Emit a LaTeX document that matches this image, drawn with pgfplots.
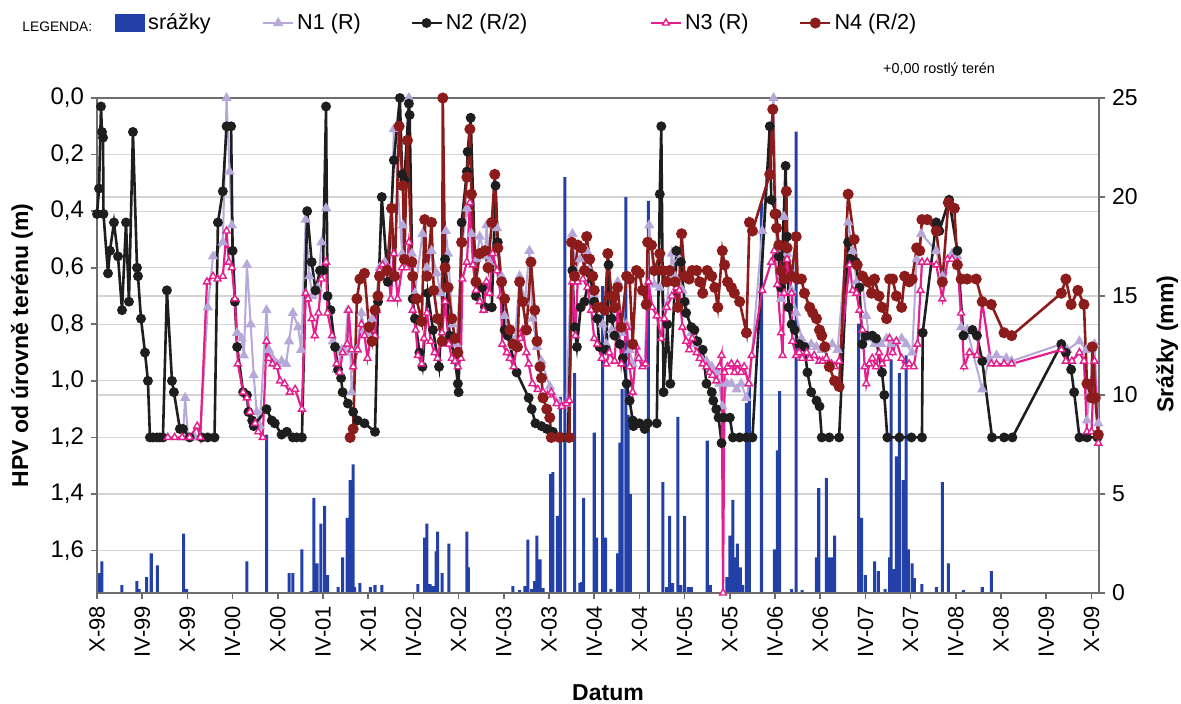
\documentclass[border=0pt]{standalone}
\usepackage{fontspec}
\setmainfont{Liberation Sans}
\usepackage{pgfplots}
\pgfplotsset{compat=1.18}

\definecolor{barblue}{RGB}{35,64,168}
\definecolor{nI}{RGB}{182,168,216}
\definecolor{nII}{RGB}{30,30,30}
\definecolor{nIII}{RGB}{228,30,140}
\definecolor{nIV}{RGB}{140,28,28}
\definecolor{gridgray}{RGB}{212,212,212}
\definecolor{axgray}{RGB}{110,110,110}

\pgfplotsset{
  common/.style={
    at={(48.5pt,55pt)}, anchor=south west,
    scale only axis, width=501pt, height=247.5pt,
    xmin=0, xmax=133,
    tick align=outside, major tick length=3pt,
    axis line style={axgray, line width=0.8pt},
    tick style={axgray, line width=0.8pt},
    every tick label/.append style={font=\fontsize{11}{13}\selectfont},
    /pgf/number format/assume math mode=true,
  },
}

\begin{document}
\begin{tikzpicture}
\useasboundingbox (0,0) rectangle (590.5pt,351.5pt);

% ----- precipitation (right axis), drawn first so the levels lie on top
\begin{axis}[
  common,
  ymin=0, ymax=25,
  axis x line=none, axis y line*=right,
  ytick={0,5,...,25},
  extra y ticks={2.142857,7.857143,10.714286,13.571429,16.428571,19.285714,22.142857},
  extra y tick labels={},
  extra y tick style={grid=major, major tick length=0pt},
  ymajorgrids=true,
  grid style={gridgray, line width=0.6pt},
  yticklabel style={font=\fontsize{11.5}{13}\selectfont},
  ylabel={Srážky (mm)},
  ylabel style={font=\bfseries\fontsize{11.5}{13}\selectfont, at={(axis description cs:1.068,0.503)}, anchor=center},
  ybar, bar width=0.4,
]
\addplot[fill=barblue, draw=none] table {
0.27 1.0
0.66 1.6
3.3 0.4
5.3 0.6
5.6 0.2
6.6 0.8
7.2 2.0
8.0 1.4
11.5 3.0
11.9 0.2
19.9 1.6
22.5 8.0
25.5 1.0
26.0 1.0
27.2 2.2
28.4 0.1
28.8 4.8
29.2 1.5
29.7 3.5
30.2 4.4
30.6 0.9
32.0 0.3
32.6 1.8
33.2 3.8
33.6 5.7
34.0 6.5
34.2 0.3
34.9 0.5
36.3 0.3
36.9 0.4
37.8 0.4
42.6 0.45
43.5 2.8
43.8 3.5
44.2 0.45
44.6 0.35
45.0 2.1
45.2 3.1
45.8 1.0
46.7 2.5
49.1 3.1
49.3 1.3
55.2 0.35
56.1 0.15
56.8 0.35
57.2 2.7
57.7 0.2
58.1 0.6
58.4 2.9
58.8 1.7
59.2 0.25
60.2 6.0
60.5 6.1
61.1 3.9
61.5 9.9
62.1 21.0
63.4 11.1
64.1 0.5
64.3 0.55
64.6 4.8
66.0 8.1
66.3 2.8
67.1 15.5
67.5 2.8
68.2 0.2
69.1 2.0
69.4 7.6
69.7 10.3
70.2 20.0
70.5 9.0
70.8 5.0
73.2 19.8
75.1 5.6
75.6 0.3
76.0 3.9
76.4 0.5
77.1 8.9
77.5 0.4
78.0 3.9
78.5 0.3
78.9 0.3
81.0 7.7
81.4 0.4
83.6 0.8
84.0 2.9
84.4 4.7
84.6 1.8
85.0 2.5
85.4 1.3
85.7 0.4
86.2 9.6
86.6 10.9
88.2 19.7
89.9 2.2
90.3 7.2
90.6 10.2
92.2 0.2
92.8 23.3
93.6 0.15
95.5 1.8
95.8 5.3
96.8 5.8
97.2 1.8
97.5 1.8
97.9 2.9
101.1 13.6
101.5 3.8
102.0 0.9
103.2 1.6
103.7 1.1
104.6 0.2
105.2 1.8
105.4 11.8
105.8 1.2
106.1 6.9
106.5 11.1
107.0 5.7
107.4 12.0
107.7 2.2
108.2 1.5
108.5 0.75
109.5 0.45
111.4 0.3
112.2 5.6
113.0 1.5
115.0 0.15
117.5 0.3
118.7 1.1
};
\end{axis}

% ----- groundwater levels (left axis, reversed)
\begin{axis}[
  common,
  ymin=0, ymax=1.75, y dir=reverse,
  xtick={0,6,...,132},
  xticklabels={X-98,IV-99,X-99,IV-00,X-00,IV-01,X-01,IV-02,X-02,IV-03,X-03,IV-04,X-04,IV-05,X-05,IV-06,X-06,IV-07,X-07,IV-08,X-08,IV-09,X-09},
  x tick label style={rotate=90, anchor=east},
  xtick pos=left, ytick pos=left,
  ytick={0,0.2,...,1.6},
  yticklabel style={font=\fontsize{12}{14}\selectfont, /pgf/number format/.cd, fixed, fixed zerofill, precision=1, use comma},
  clip=false,
  ylabel={HPV od úrovně terénu (m)},
  ylabel style={font=\bfseries\fontsize{11.5}{13}\selectfont, at={(axis description cs:-0.075,0.5)}, anchor=center},
  xlabel={Datum},
  xlabel style={font=\bfseries\fontsize{11.5}{13}\selectfont, at={(axis description cs:0.51,-0.202)}, anchor=center},
  legend columns=5,
  legend style={at={(axis description cs:0.018,1.1515)}, anchor=west, draw=none, fill=none,
    inner sep=0pt, font=\fontsize{10.8}{12}\selectfont,
    nodes={inner xsep=1.5pt}, /tikz/column sep=0pt},
  legend cell align=left,
  legend image code/.code={\draw[mark repeat=2, mark phase=2] plot coordinates {(0pt,0pt) (7.5pt,0pt) (15pt,0pt)};},
]
\addlegendimage{legend image code/.code={\fill[barblue] (0pt,-4.2pt) rectangle (14.5pt,4.2pt);}}

\addplot[nI, line width=1pt, mark=triangle*, mark size=2pt, mark options={fill=nI, draw=nI}] table {
11.4 1.20
11.7 1.06
12.1 1.20
13.0 1.20
13.7 1.20
14.7 0.74
15.4 0.56
16.7 0.51
17.2 0.00
17.6 0.26
17.9 0.45
18.6 0.83
19.2 0.85
19.5 0.91
19.9 0.59
20.4 0.80
20.8 0.98
21.2 1.11
21.6 1.16
22.5 0.75
22.8 0.89
23.3 0.92
23.9 0.94
24.5 0.93
25.1 0.94
25.5 0.86
26.0 0.76
26.7 0.81
27.1 0.89
27.7 0.43
28.2 0.63
28.6 0.70
29.3 0.67
29.8 0.51
30.4 0.39
30.6 0.70
31.0 0.75
31.3 0.86
31.8 0.96
32.5 0.89
32.9 0.90
33.3 0.75
33.6 0.89
33.8 1.04
34.5 0.89
35.1 0.76
35.5 0.82
35.9 0.83
36.5 0.78
36.9 0.74
37.5 0.60
38.2 0.58
38.9 0.62
39.4 0.11
40.5 0.55
40.6 0.45
41.4 0.00
41.8 0.55
42.2 0.69
43.2 0.48
43.8 0.60
44.4 0.54
45.1 0.62
45.6 0.69
46.3 0.47
46.6 0.55
47.2 0.80
47.7 0.87
48.5 0.51
49.1 0.39
49.7 0.48
50.4 0.57
50.8 0.49
51.5 0.56
51.7 0.45
52.1 0.58
53.1 0.46
53.7 0.63
54.1 0.77
54.8 0.84
55.4 0.88
56.1 0.63
56.8 0.72
57.4 0.54
57.8 0.78
58.4 0.88
59.0 0.93
60.1 1.02
61.4 1.08
62.3 1.08
63.1 0.48
63.5 0.61
64.1 0.57
65.0 0.54
65.4 0.61
66.0 0.70
66.4 0.78
67.1 0.80
67.6 0.87
68.3 0.82
69.1 0.65
69.6 0.83
70.3 0.80
70.7 0.89
71.1 0.94
71.8 0.92
72.7 0.94
73.3 0.45
74.0 0.66
74.7 0.67
75.6 0.74
76.3 0.55
76.7 0.63
77.3 0.57
77.7 0.68
78.1 0.72
78.9 0.83
79.6 0.87
80.2 0.92
80.9 0.93
81.6 0.95
82.2 0.97
82.6 1.01
83.0 1.09
83.6 1.01
84.2 1.01
84.9 1.03
85.5 1.01
86.2 1.06
86.6 1.01
88.3 0.47
89.8 0.00
90.2 0.54
90.8 0.71
91.2 0.42
91.6 0.55
92.2 0.68
92.8 0.76
93.5 0.85
94.2 0.88
94.8 0.87
95.5 0.88
96.2 0.89
96.8 0.88
97.6 0.87
98.3 0.89
99.7 0.44
100.3 0.54
100.8 0.65
101.5 0.63
102.1 0.77
102.5 0.85
103.2 0.87
104.1 0.87
104.8 0.85
105.4 0.87
106.1 0.86
106.8 0.85
107.4 0.87
108.2 0.90
108.8 0.57
109.4 0.48
111.4 0.54
112.2 0.63
113.5 0.55
114.2 0.56
114.7 0.81
115.5 0.82
117.5 1.03
118.4 0.92
119.4 0.91
120.7 0.92
121.4 0.93
128.0 0.87
128.8 0.89
130.4 0.86
131.3 0.89
131.4 1.14
132.4 0.87
132.9 1.15
};

\addplot[nII, line width=1.3pt, mark=*, mark size=1.8pt, mark options={fill=nII, draw=nII}] table {
0 0.41
0.27 0.32
0.53 0.03
0.66 0.12
0.80 0.14
0.86 0.41
1.46 0.62
1.72 0.54
2.25 0.44
2.79 0.56
3.32 0.75
3.85 0.44
4.24 0.72
4.77 0.12
5.31 0.60
5.44 0.63
5.84 0.78
6.37 0.90
6.76 1.00
7.03 1.20
7.43 1.20
7.96 1.20
8.36 1.20
8.75 1.20
9.28 0.68
9.95 1.00
10.21 1.04
11.0 1.17
11.4 1.17
12.3 1.20
13.9 1.20
14.7 1.20
15.6 1.20
16.05 0.44
16.7 0.33
17.2 0.10
17.8 0.10
18.0 0.54
18.3 0.72
18.6 0.88
19.4 1.04
19.9 1.05
20.1 1.11
20.6 1.14
20.8 1.16
22.5 1.10
23.2 1.14
23.6 1.15
24.5 1.19
25.2 1.18
26.0 1.20
26.5 1.20
27.2 1.20
27.9 0.40
28.5 0.58
29.0 0.68
29.6 0.61
30.0 0.61
30.4 0.03
30.6 0.70
31.0 0.75
31.6 0.88
32.0 0.96
32.4 0.99
32.6 1.04
33.3 1.08
34.0 1.11
34.6 1.14
35.5 1.15
36.9 1.18
37.3 0.72
37.8 0.35
38.6 0.65
39.4 0.22
40.2 0.00
40.5 0.27
40.8 0.29
41.4 0.02
41.5 0.06
41.9 0.71
42.2 0.78
42.8 0.90
43.2 0.95
43.9 0.69
44.6 0.82
45.4 0.95
46.2 0.57
46.8 0.84
47.5 0.92
47.9 1.01
48.0 1.04
48.4 0.44
49.1 0.26
49.2 0.19
49.6 0.07
50.3 0.70
51.1 0.67
51.5 0.74
52.4 0.74
52.9 0.31
53.2 0.51
54.1 0.82
54.5 0.84
55.7 0.97
57.3 1.06
57.7 1.10
58.2 1.15
59.0 1.16
59.7 1.17
60.5 1.18
61.7 1.20
62.5 1.20
63.1 0.61
63.4 0.81
63.7 0.88
64.2 0.74
64.7 0.72
65.4 0.62
66.0 0.72
66.4 0.78
66.7 0.88
67.6 0.89
67.9 0.59
68.3 0.78
68.7 0.84
69.4 0.87
69.8 0.92
70.3 1.01
70.7 1.07
71.1 1.14
71.2 1.16
72.0 1.15
72.7 1.17
73.1 1.15
74.3 1.15
74.7 0.34
74.9 0.10
75.2 1.04
75.7 0.80
76.1 1.01
76.9 0.54
77.5 0.58
78.0 0.72
78.2 0.76
78.9 0.81
79.3 0.82
79.7 0.86
80.4 0.89
80.9 1.01
81.6 1.04
81.8 1.07
82.2 1.10
82.5 1.13
82.9 1.22
83.2 1.13
84.0 1.13
84.4 1.20
85.3 1.20
86.2 1.20
87.0 1.20
89.3 0.10
89.5 0.36
90.2 0.41
90.5 0.56
90.8 0.67
91.4 0.24
91.6 0.49
91.8 0.74
92.2 0.80
92.6 0.82
93.2 0.87
93.9 0.88
94.3 0.97
94.8 1.04
95.5 1.07
95.9 1.09
96.2 1.20
97.2 1.20
98.5 1.20
99.7 0.51
100.1 0.57
100.7 0.58
101.2 0.67
101.6 0.87
102.1 0.84
102.9 0.84
103.4 0.85
104.2 0.97
104.5 1.05
104.9 1.20
106.5 1.20
108.1 1.20
109.5 1.20
109.6 0.83
111.4 0.44
111.8 0.47
113.1 0.36
114.2 0.54
115.0 0.84
116.2 0.82
116.8 0.84
117.5 0.93
118.8 1.20
120.4 1.20
121.5 1.20
128.0 0.87
128.6 0.90
129.3 0.96
129.7 1.04
130.4 1.20
131.4 1.20
132.8 1.20
};

\addplot[nIII, line width=1.1pt, mark=triangle*, mark size=2pt, mark options={fill=white, draw=nIII, line width=0.7pt}] table {
9.4 1.20
10.3 1.20
11.3 1.20
12.3 1.20
13.3 1.16
13.7 1.20
14.6 0.65
15.4 0.63
16.0 0.64
16.7 0.63
17.2 0.47
17.5 0.58
17.9 0.60
18.3 0.71
18.7 0.94
19.4 1.04
19.9 1.06
20.3 1.11
21.0 1.15
21.4 1.18
22.0 1.20
22.5 0.86
22.8 0.92
23.3 0.94
23.9 0.95
24.3 1.00
24.9 1.01
25.6 1.04
26.3 1.03
27.2 1.10
27.7 0.69
28.0 0.71
28.5 0.78
28.9 0.84
29.4 0.76
29.8 0.64
30.4 0.58
30.6 0.76
31.2 0.84
31.8 0.94
32.2 0.97
32.6 0.90
33.2 0.87
33.4 0.75
33.8 0.89
34.0 0.95
34.6 0.89
35.1 0.80
35.5 0.84
35.9 0.92
36.5 0.82
36.9 0.84
37.1 0.75
37.5 0.61
37.9 0.59
38.6 0.60
39.0 0.71
39.4 0.55
39.9 0.71
40.5 0.60
41.1 0.60
41.4 0.51
41.8 0.59
41.9 0.75
42.3 0.82
42.6 0.91
43.1 0.94
43.4 0.85
43.8 0.76
44.3 0.86
44.8 0.90
45.2 0.92
45.8 0.83
46.2 0.72
46.7 0.87
47.1 0.92
47.5 0.93
47.9 0.95
48.3 0.92
48.5 0.64
49.1 0.58
49.5 0.37
49.9 0.59
50.3 0.68
50.8 0.72
51.3 0.75
51.7 0.65
52.1 0.69
52.5 0.55
53.1 0.61
53.6 0.70
53.8 0.87
54.4 0.90
54.8 0.92
55.3 0.95
55.7 0.88
56.2 0.85
56.5 0.82
57.0 0.90
57.3 0.94
57.8 1.01
58.5 1.03
59.2 1.04
59.8 1.05
60.3 1.04
61.0 1.08
61.7 1.09
62.3 1.08
62.7 1.07
63.1 0.65
63.5 0.84
63.8 0.65
64.5 0.64
65.1 0.67
65.6 0.75
66.0 0.85
66.4 0.87
67.0 0.92
67.6 0.94
68.0 0.90
68.7 0.93
69.1 0.75
69.6 0.94
70.3 0.81
70.7 0.95
71.1 1.04
71.6 0.88
71.9 0.92
72.4 0.95
72.8 0.94
73.2 0.65
73.7 0.74
74.3 0.77
74.9 0.85
75.3 0.78
75.6 0.74
76.3 0.70
76.9 0.67
77.3 0.68
77.7 0.81
78.2 0.86
78.6 0.89
79.0 0.85
79.6 0.90
80.0 0.92
80.4 0.94
80.9 0.95
81.3 0.97
81.7 0.98
82.2 1.00
82.6 0.95
82.9 0.91
83.1 1.75
83.3 0.97
83.7 0.95
84.2 0.94
84.6 0.97
85.0 0.94
85.5 0.97
85.9 0.95
86.5 1.01
86.9 0.91
88.3 0.68
89.5 0.58
89.9 0.54
90.3 0.66
90.8 0.83
91.0 0.91
91.2 0.69
91.6 0.57
92.2 0.69
92.3 0.86
92.8 0.91
93.2 0.90
93.6 0.92
94.2 0.90
94.6 0.92
95.2 0.91
95.9 0.93
96.3 0.93
96.8 0.92
97.5 0.94
97.9 0.95
98.5 0.93
99.9 0.59
100.3 0.68
100.8 0.69
101.2 0.75
101.6 0.82
101.9 0.95
102.1 1.01
102.5 0.94
102.9 0.92
103.4 0.95
103.8 0.90
104.2 0.94
104.8 0.92
105.2 0.85
105.6 0.90
106.1 0.86
106.8 0.92
107.2 0.95
107.8 0.94
108.4 0.95
108.9 0.87
109.3 0.68
109.5 0.58
110.2 0.58
111.4 0.59
112.2 0.71
112.9 0.57
113.5 0.57
114.2 0.58
114.7 0.76
115.1 0.95
115.8 0.90
116.8 0.91
117.5 0.72
118.7 0.94
119.4 0.94
120.4 0.94
121.4 0.94
128.0 0.89
128.6 0.93
129.4 0.93
130.4 0.90
131.0 0.93
131.4 1.18
132.0 1.18
132.4 0.93
132.9 1.22
};

\addplot[nIV, line width=1.3pt, mark=*, mark size=2.1pt, mark options={fill=nIV, draw=nIV}] table {
33.6 1.20
34.0 1.17
34.5 0.71
34.9 0.64
35.5 0.62
36.1 0.81
36.5 0.86
36.9 0.75
37.3 0.70
37.5 0.63
38.5 0.61
39.1 0.39
39.5 0.63
40.1 0.10
40.6 0.31
40.8 0.57
41.2 0.15
41.8 0.58
41.9 0.63
42.4 0.71
43.1 0.79
43.5 0.43
43.8 0.63
44.4 0.44
44.7 0.68
45.2 0.78
45.8 0.86
45.9 0.00
46.2 0.60
46.6 0.67
47.1 0.78
47.5 0.85
47.9 0.90
48.4 0.51
49.1 0.28
49.5 0.11
49.7 0.34
50.3 0.65
50.8 0.55
51.5 0.54
51.9 0.60
52.4 0.44
52.8 0.27
53.2 0.53
53.7 0.65
54.1 0.71
54.8 0.82
55.2 0.87
55.8 0.88
56.1 0.65
56.5 0.72
57.0 0.82
57.6 0.58
58.1 0.75
58.4 0.86
58.8 0.95
59.0 0.99
59.2 1.06
59.7 1.10
60.1 1.13
60.3 1.20
61.4 1.20
62.7 1.20
63.0 0.51
63.4 0.63
63.8 0.52
64.3 0.53
64.7 0.61
65.0 0.49
65.4 0.57
65.8 0.63
66.0 0.68
66.4 0.74
67.0 0.74
67.4 0.75
67.8 0.55
68.3 0.70
68.7 0.74
69.1 0.67
69.6 0.81
70.3 0.63
70.7 0.64
71.1 0.87
71.6 0.61
72.0 0.62
72.4 0.68
72.9 0.73
73.1 0.51
73.6 0.52
74.0 0.61
74.7 0.55
75.1 0.61
75.6 0.65
76.0 0.61
76.7 0.65
77.1 0.74
77.6 0.48
78.0 0.63
78.6 0.64
79.0 0.61
79.6 0.61
80.0 0.65
80.4 0.69
81.0 0.61
81.6 0.63
82.0 0.67
82.4 0.74
83.0 0.54
83.3 0.59
83.7 0.65
84.2 0.67
84.6 0.69
85.3 0.72
86.2 0.83
86.6 0.44
87.0 0.47
89.3 0.27
89.7 0.04
90.0 0.41
90.2 0.46
90.5 0.52
90.8 0.61
91.2 0.64
91.5 0.33
91.6 0.53
92.2 0.63
92.8 0.49
93.0 0.64
93.5 0.64
93.9 0.69
94.6 0.74
95.0 0.76
95.5 0.78
95.9 0.82
96.2 0.84
96.6 0.88
97.2 0.95
97.9 1.00
98.5 1.02
99.7 0.34
100.5 0.50
100.9 0.59
101.6 0.63
102.3 0.65
102.8 0.69
103.2 0.64
103.8 0.70
104.2 0.74
104.8 0.78
105.2 0.64
105.6 0.64
106.1 0.70
106.8 0.74
107.2 0.63
107.8 0.65
108.2 0.64
108.8 0.53
109.2 0.54
109.5 0.43
110.2 0.43
111.4 0.47
112.2 0.65
113.0 0.37
113.8 0.39
114.2 0.59
114.7 0.64
115.5 0.64
116.7 0.64
117.5 0.72
118.7 0.73
120.4 0.83
121.4 0.84
128.0 0.69
128.6 0.64
129.3 0.73
130.2 0.68
131.0 0.73
131.4 1.01
132.0 1.06
132.1 0.88
132.5 1.06
132.9 1.19
};
\legend{\makebox[55.5pt][l]{srážky}, \makebox[55pt][l]{N1 (R)}, \makebox[100.5pt][l]{N2 (R/2)}, \makebox[55.5pt][l]{N3 (R)}, N4 (R/2)}
\end{axis}

\node[anchor=west, inner sep=0pt, font=\fontsize{6.9}{8}\selectfont] at (11pt,338pt) {LEGENDA:};
\node[font=\fontsize{7.2}{8}\selectfont] at (469.5pt,316.5pt) {+0,00 rostlý terén};
\end{tikzpicture}
\end{document}
